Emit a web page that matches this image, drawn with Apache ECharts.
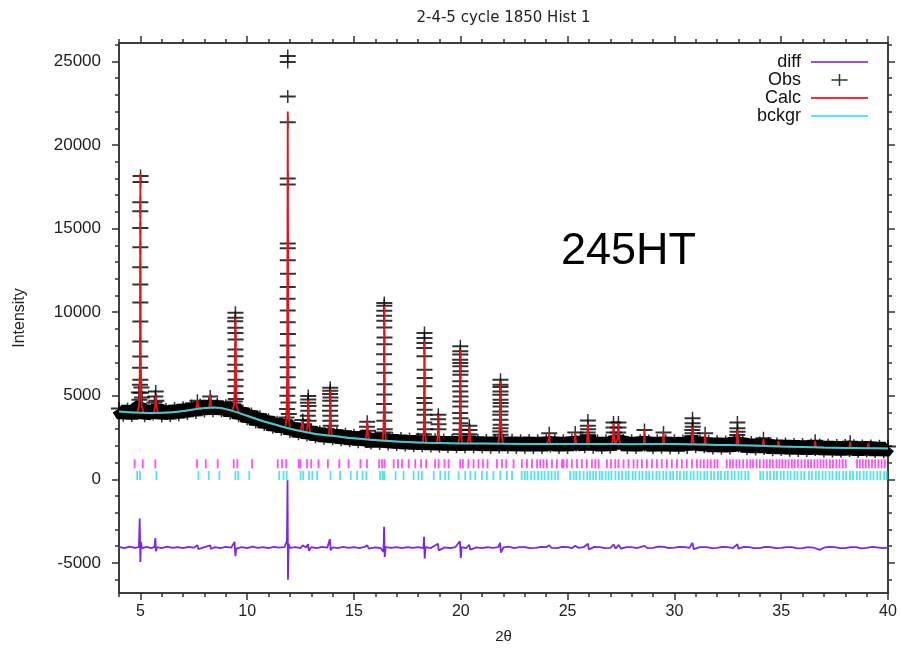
<!DOCTYPE html>
<html><head><meta charset="utf-8">
<script src="https://cdn.jsdelivr.net/npm/echarts@6/dist/echarts.min.js"></script>
<style>html,body{margin:0;padding:0;background:#fff}#c{width:902px;height:648px}</style>
</head><body><div id="c"></div>
<script>
// ---------- axis ticks / labels ----------
const xMajor = [5, 10, 15, 20, 25, 30, 35, 40];
const xMinor = [4, 6, 7, 8, 9, 11, 12, 13, 14, 16, 17, 18, 19, 21, 22, 23, 24, 26, 27, 28, 29, 31, 32, 33, 34, 36, 37, 38, 39];
const yMajor = [-5000, 0, 5000, 10000, 15000, 20000, 25000];
const yMinor = [-6000, -4000, -3000, -2000, -1000, 1000, 2000, 3000, 4000, 6000, 7000, 8000, 9000, 11000, 12000, 13000, 14000, 16000, 17000, 18000, 19000, 21000, 22000, 23000, 24000, 26000];
const xRange = [4, 40];
const yRange = [-6800, 26100];

// ---------- background (bckgr) ----------
const bckgr = [[4,4050],[4.5,4005],[5,3980],[5.5,3972],[6,3980],[6.5,4010],[7,4080],[7.5,4180],[8,4260],[8.5,4290],[9,4200],[9.5,4020],[10,3800],[10.5,3580],[11,3380],[11.5,3200],[12,3030],[12.5,2890],[13,2760],[13.5,2660],[14,2600],[15,2450],[16,2350],[17,2260],[18,2200],[19,2170],[20,2150],[22,2130],[24,2110],[26,2110],[28,2105],[30,2110],[32,2060],[33,2040],[34,2010],[35,1960],[36,1930],[37,1900],[38,1880],[39,1865],[40,1850]];

// ---------- observed: noisy baseline band, start 4.0, step 0.2 ----------
const obsStart = 4.0, obsStep = 0.2;
const obsBand = [4240,3840,4200,3820,4190,4350,3800,4160,3900,4300,3790,4180,3820,4230,3870,4280,3930,4380,4000,4450,
4080,4500,4100,4480,4090,4400,3950,4350,3800,4080,3620,3900,3430,3740,3280,3560,3120,3420,3000,3400,
2860,3170,2720,3050,2650,2960,2540,2850,2460,2800,2420,2750,2360,2700,2300,2640,2250,2590,2450,2180,
2540,2140,2500,2120,2460,2080,2440,2050,2410,2020,2390,2010,2380,1990,2360,1980,2350,1960,2340,1950,
2330,1950,2400,1940,2330,1930,2320,1920,2320,1940,2310,1920,2330,1910,2300,1920,2320,1900,2310,1910,
2300,2000,2310,1900,2300,1910,2320,2050,2300,1950,2450,1920,2310,1900,2300,1920,2400,2150,2320,1910,
2300,1900,2310,2050,2290,1900,2300,1920,2310,1890,2300,1900,2290,1910,2450,1960,2280,1950,2260,1870,
2250,1860,2240,1860,2300,2000,2220,1830,2200,1810,2180,1850,2150,1770,2120,1780,2110,1740,2090,1730,
2080,1720,2060,1780,2050,1700,2040,1690,2030,1680,2020,1720,2010,1670,2000,1700,1990,1660,1980,1650,1970];

// ---------- observed: points on the Bragg peaks ----------
const obsPeaks = [
[5.01,18140],[5.01,17780],[5.0,16580],[5.0,16040],[5.0,15040],[5.0,13880],[5.0,12680],[5.0,11660],[5.0,10580],[5.0,9440],[5.0,8240],[5.0,7340],[4.99,6680],[5.0,5960],[4.98,5660],[5.03,5180],[4.96,4760],[5.05,5500],[4.93,5200],[5.08,4900],
[5.72,5250],[5.7,4950],[5.75,4700],[5.66,4600],
[7.67,4700],[8.27,4950],[8.3,4700],
[9.45,9960],[9.45,9660],[9.44,9460],[9.45,9060],[9.45,8760],[9.46,8360],[9.45,7760],[9.45,7360],[9.44,6860],[9.45,6460],[9.46,5960],[9.45,5560],[9.44,5160],[9.47,4800],[9.42,4650],
[11.9,25320],[11.9,24960],[11.9,22900],[11.9,21360],[11.9,18000],[11.9,17640],[11.9,14100],[11.9,13820],[11.9,13100],[11.91,12300],[11.9,11500],[11.89,10800],[11.9,10100],[11.9,9400],[11.91,8700],[11.9,8000],[11.89,7300],[11.9,6700],[11.9,6100],[11.92,5500],[11.88,5000],[11.93,4600],[11.87,4200],[11.95,3900],[11.84,3700],
[12.6,3550],[12.62,3300],
[12.86,4980],[12.86,4780],[12.85,4580],[12.87,4380],[12.86,4100],[12.84,3800],[12.88,3500],
[13.89,5480],[13.89,5300],[13.88,5100],[13.9,4900],[13.89,4700],[13.89,4400],[13.88,4100],[13.9,3800],[13.89,3500],[13.91,3200],
[15.62,3450],[15.61,3150],[15.64,2900],
[16.42,10550],[16.42,10380],[16.42,10080],[16.41,9780],[16.42,9480],[16.42,9080],[16.43,8480],[16.42,8080],[16.41,7480],[16.42,6880],[16.42,6380],[16.43,5680],[16.42,5080],[16.41,4500],[16.43,4000],[16.42,3500],[16.44,3000],[16.39,2800],
[18.3,8760],[18.3,8460],[18.3,8160],[18.29,7860],[18.3,7360],[18.3,6560],[18.31,6060],[18.3,5560],[18.29,4860],[18.3,4560],[18.31,4160],[18.3,3860],[18.29,3400],[18.32,3000],[18.27,2700],
[18.95,3860],[18.94,3600],[18.96,3300],[18.95,3000],
[19.98,7960],[19.98,7660],[19.98,7460],[19.97,7160],[19.98,6960],[19.98,6760],[19.99,6460],[19.98,6260],[19.98,5860],[19.97,5560],[19.98,5260],[19.99,4960],[19.98,4660],[19.98,4360],[19.97,3960],[19.99,3660],[19.98,3360],[19.98,2960],[20.0,2700],
[20.4,3200],[20.41,2950],[20.39,2700],
[21.86,5960],[21.86,5660],[21.86,5520],[21.86,5260],[21.85,5060],[21.86,4760],[21.87,4560],[21.86,4360],[21.86,4060],[21.85,3860],[21.86,3560],[21.87,3260],[21.86,3060],[21.85,2860],[21.86,2660],
[24.14,2750],[25.36,2800],
[25.95,3520],[25.95,3200],[25.96,3000],[25.94,2800],[25.95,2650],
[27.15,3400],[27.15,3100],[27.16,2800],[27.38,3400],[27.38,3100],[27.37,2800],
[28.6,2950],[29.49,2800],
[30.85,3660],[30.85,3350],[30.86,3150],[30.84,2950],[30.85,2750],
[31.44,2750],
[32.95,3400],[32.95,3050],[32.96,2850],[32.94,2650],
[34.17,2450],[36.59,2300],[38.23,2250]
];

// ---------- calculated profile ----------
const calc = [
[4,4050],[4.5,4005],[4.85,3985],[4.94,4400],[4.98,7000],[5.0,18300],[5.02,7000],[5.06,4400],[5.15,3980],[5.5,3972],[5.64,3975],[5.69,4400],[5.72,5050],[5.75,4400],[5.82,3975],[6,3980],[6.5,4010],[7,4080],[7.5,4180],[7.6,4195],[7.64,4400],[7.67,4750],[7.7,4400],[7.75,4220],[8,4260],[8.2,4275],[8.24,4500],[8.27,5050],[8.3,4500],[8.35,4280],[8.5,4290],[9,4200],[9.3,4090],[9.39,4500],[9.42,6200],[9.45,9700],[9.48,6200],[9.51,4400],[9.6,3980],[10,3800],[10.5,3580],[11,3380],[11.5,3200],[11.78,3110],[11.84,3600],[11.87,6500],[11.9,22000],[11.93,6500],[11.96,3600],[12,3030],[12.5,2890],[12.56,2880],[12.6,3500],[12.64,2870],[12.78,2830],[12.83,3300],[12.86,4760],[12.89,3300],[12.95,2775],[13,2760],[13.5,2660],[13.82,2620],[13.86,3300],[13.89,5360],[13.92,3300],[13.96,2605],[14,2600],[15,2450],[15.55,2395],[15.59,2750],[15.62,3560],[15.65,2750],[15.7,2380],[16,2350],[16.34,2318],[16.38,2900],[16.4,4600],[16.42,10400],[16.44,4600],[16.46,2900],[16.5,2305],[17,2260],[18,2200],[18.22,2195],[18.26,2700],[18.28,4300],[18.3,8300],[18.32,4300],[18.34,2700],[18.38,2190],[18.88,2178],[18.92,2600],[18.95,3860],[18.98,2600],[19.02,2170],[19.9,2152],[19.94,2700],[19.96,4100],[19.98,7760],[20,4100],[20.02,2700],[20.06,2150],[20.33,2148],[20.37,2550],[20.4,3160],[20.43,2550],[20.47,2146],[21.75,2133],[21.8,2600],[21.83,3600],[21.86,5850],[21.89,3600],[21.92,2600],[21.97,2131],[22,2130],[24,2110],[24.09,2110],[24.12,2350],[24.14,2760],[24.16,2350],[24.19,2110],[25.31,2110],[25.34,2350],[25.36,2800],[25.38,2350],[25.41,2110],[25.89,2110],[25.92,2450],[25.95,3360],[25.98,2450],[26.02,2110],[27.08,2108],[27.12,2450],[27.15,3360],[27.18,2450],[27.24,2108],[27.32,2108],[27.35,2450],[27.38,3360],[27.41,2450],[27.46,2107],[28,2105],[28.55,2106],[28.58,2300],[28.6,2960],[28.62,2300],[28.65,2106],[29.44,2108],[29.47,2300],[29.49,2800],[29.51,2300],[29.54,2108],[30,2110],[30.79,2090],[30.82,2450],[30.85,3160],[30.88,2450],[30.91,2088],[31.4,2075],[31.42,2300],[31.44,2800],[31.46,2300],[31.48,2074],[32,2060],[32.9,2043],[32.92,2400],[32.95,2960],[32.98,2400],[33,2040],[34,2010],[34.13,2004],[34.15,2200],[34.17,2400],[34.19,2200],[34.21,2000],[34.83,1970],[34.85,2150],[34.87,2300],[34.89,2150],[34.91,1966],[35,1960],[36,1930],[36.55,1914],[36.57,2100],[36.59,2300],[36.61,2100],[36.63,1912],[37,1900],[38,1880],[38.19,1877],[38.21,2050],[38.23,2250],[38.25,2050],[38.27,1875],[39,1865],[39.04,1864],[39.06,2000],[39.08,2150],[39.1,2000],[39.12,1862],[40,1850]
];

// ---------- difference curve (offset) ----------
const diff = [
[4.0,-4040],[4.25,-4110],[4.5,-4030],[4.75,-4100],[4.93,-4060],[4.97,-2350],[5.0,-4950],[5.03,-3750],[5.07,-4120],[5.3,-4040],[5.5,-4110],[5.66,-4050],[5.7,-3520],[5.73,-4300],[5.77,-4060],[6.0,-4110],[6.25,-4030],[6.5,-4100],[6.75,-4050],[7.0,-4120],[7.25,-4040],[7.5,-4090],[7.67,-3950],[7.72,-4180],[8.0,-4060],[8.27,-3950],[8.31,-4170],[8.5,-4050],[8.75,-4110],[9.0,-4040],[9.25,-4090],[9.41,-3740],[9.45,-4600],[9.49,-4150],[9.75,-4060],[10.0,-4110],[10.25,-4030],[10.5,-4100],[10.75,-4050],[11.0,-4110],[11.25,-4040],[11.5,-4090],[11.75,-4050],[11.86,-3700],[11.89,-50],[11.91,-6000],[11.94,-3850],[12.0,-4100],[12.25,-4050],[12.5,-4110],[12.6,-3950],[12.75,-4080],[12.85,-3880],[12.89,-4280],[13.0,-4060],[13.25,-4110],[13.5,-4040],[13.75,-4090],[13.87,-3580],[13.91,-4250],[14.0,-4070],[14.25,-4110],[14.5,-4040],[14.75,-4100],[15.0,-4050],[15.25,-4110],[15.5,-4040],[15.62,-3950],[15.7,-4150],[16.0,-4070],[16.25,-4110],[16.38,-4350],[16.41,-2840],[16.44,-4640],[16.48,-4050],[16.75,-4100],[17.0,-4050],[17.25,-4110],[17.5,-4060],[17.75,-4100],[18.0,-4050],[18.25,-4120],[18.28,-3440],[18.31,-4740],[18.35,-4060],[18.6,-4110],[18.93,-3850],[18.97,-4250],[19.25,-4070],[19.5,-4110],[19.75,-4050],[19.96,-3700],[20.0,-4700],[20.04,-4060],[20.25,-4110],[20.4,-3920],[20.44,-4200],[20.75,-4070],[21.0,-4110],[21.25,-4050],[21.5,-4100],[21.75,-4060],[21.84,-3800],[21.88,-4380],[22.0,-4070],[22.25,-4030],[22.5,-4110],[22.75,-4060],[23.0,-4050],[23.25,-4120],[23.5,-4100],[23.75,-4040],[24.0,-4060],[24.14,-3950],[24.25,-4100],[24.5,-4110],[24.75,-4040],[25.0,-4050],[25.2,-4120],[25.36,-3980],[25.5,-4100],[25.75,-4060],[25.95,-3850],[26.0,-4200],[26.25,-4040],[26.5,-4060],[26.75,-4120],[27.0,-4100],[27.15,-3900],[27.25,-4140],[27.4,-3920],[27.5,-4150],[27.75,-4050],[28.0,-4060],[28.25,-4110],[28.6,-3980],[28.75,-4120],[29.0,-4100],[29.25,-4030],[29.5,-4040],[29.75,-4110],[30.0,-4090],[30.25,-4040],[30.5,-4050],[30.7,-4100],[30.85,-3800],[30.9,-4180],[31.2,-4060],[31.5,-4060],[31.75,-4120],[32.0,-4100],[32.25,-4040],[32.5,-4060],[32.75,-4110],[32.95,-3880],[33.0,-4150],[33.25,-4040],[33.5,-4060],[33.75,-4120],[34.0,-4110],[34.25,-4040],[34.5,-4050],[34.75,-4120],[35.0,-4100],[35.25,-4050],[35.5,-4060],[35.75,-4130],[36.0,-4110],[36.25,-4050],[36.5,-4080],[36.8,-4220],[37.0,-4090],[37.25,-4040],[37.5,-4050],[37.75,-4120],[38.0,-4110],[38.25,-4050],[38.5,-4060],[38.75,-4130],[39.0,-4100],[39.25,-4040],[39.5,-4070],[39.75,-4120],[40.0,-4090]
];

// ---------- reflection positions: phase 1 (magenta) and phase 2 (cyan) ----------
const refl1 = [4.73,5.11,5.70,7.65,8.06,8.62,9.37,9.54,10.23,11.43,11.63,11.83,12.41,12.49,12.80,13.00,13.34,13.78,14.31,14.75,15.30,15.61,16.18,16.31,16.43,16.86,17.06,17.25,17.56,17.87,18.14,18.38,18.80,18.96,19.24,19.43,19.97,20.10,20.36,20.60,20.83,21.04,21.25,21.69,21.93,22.13,22.47,22.86,23.10,23.33,23.57,23.72,23.87,24.03,24.27,24.50,24.74,24.81,24.97,25.20,25.44,25.67,25.90,26.14,26.30,26.45,26.84,27.03,27.23,27.38,27.62,27.85,28.09,28.27,28.48,28.71,28.95,29.18,29.41,29.65,29.88,30.12,30.35,30.58,30.82,31.05,31.22,31.38,31.55,31.70,31.88,32.02,32.45,32.60,32.74,32.90,33.05,33.22,33.40,33.55,33.68,33.85,34.00,34.18,34.32,34.47,34.60,34.78,34.92,35.05,35.20,35.34,35.50,35.63,35.78,35.95,36.10,36.26,36.40,36.55,36.70,36.84,36.98,37.12,37.28,37.42,37.58,37.73,37.88,38.02,38.55,38.68,38.82,38.96,39.10,39.25,39.40,39.55,39.70,39.85];
const refl2 = [4.85,4.98,5.75,7.72,8.20,8.70,9.45,9.58,10.10,11.50,11.70,11.85,12.50,12.62,12.90,13.05,13.28,13.90,14.35,14.85,15.15,15.40,15.58,16.22,16.35,16.42,16.95,17.32,17.79,18.02,18.18,18.73,19.04,19.27,19.43,19.90,20.21,20.45,20.68,20.99,21.22,21.53,21.85,22.16,22.40,22.85,23.00,23.12,23.30,23.45,23.62,23.78,23.92,24.10,24.25,24.42,24.55,25.12,25.28,25.40,25.57,25.75,25.92,26.05,26.20,26.32,26.50,26.62,26.78,26.92,27.05,27.24,27.40,27.55,27.72,27.86,28.05,28.18,28.36,28.50,28.68,28.82,28.98,29.16,29.30,29.48,29.62,29.80,29.94,30.12,30.26,30.44,30.58,30.76,30.90,31.08,31.22,31.40,31.54,31.72,31.86,32.04,32.18,32.36,32.50,32.68,32.82,33.00,33.14,33.32,33.46,34.02,34.16,34.34,34.48,34.66,34.80,34.98,35.12,35.30,35.44,35.62,35.76,35.94,36.08,36.30,36.44,36.62,36.76,36.94,37.08,37.26,37.40,37.58,37.72,37.90,38.04,38.22,38.36,38.54,38.68,38.86,39.00,39.18,39.32,39.50,39.64,39.82,39.94];
const refl1Level = 930, refl2Level = 230;

// ---------- build ----------
const FONT = '"Liberation Sans", Arial, Helvetica, sans-serif';
const AXC = '#333';
const obsBandPts = obsBand.map((v, i) => [+(obsStart + i * obsStep).toFixed(2), v]);
const obsAll = obsBandPts.concat(obsPeaks);
const calcPts = calc.slice().sort((a, b) => a[0] - b[0]);
const plusSym = 'path://M7.25,0h1.5v5.5h7.25v2h-7.25v5.5h-1.5v-5.5h-7.25v-2h7.25z';
const plusLegend = 'path://M0,0M57,12M27.75,0h1.5v5.25h7.25v1.5h-7.25v5.25h-1.5v-5.25h-7.25v-1.5h7.25z';
const lineLegend = 'path://M0,0M57,12M0,5.1h57v1.8h-57z';

function axis(pos, range, ticks, len, extra) {
  return Object.assign({
    type: 'value', position: pos, min: range[0], max: range[1],
    axisLine: {show: true, onZero: false, lineStyle: {color: AXC, width: 1.5}},
    axisTick: {show: true, inside: false, customValues: ticks, length: len, lineStyle: {color: AXC, width: 1.5}},
    axisLabel: {show: false},
    splitLine: {show: false}
  }, extra || {});
}

const chart = echarts.init(document.getElementById('c'), null, {renderer: 'canvas'});
chart.setOption({
  animation: false,
  backgroundColor: '#fff',
  grid: {left: 119, right: 14, top: 43, bottom: 55, containLabel: false, outerBoundsMode: 'none'},
  xAxis: [
    axis('bottom', xRange, xMajor, 7, {
      axisLabel: {show: true, customValues: xMajor, fontSize: 16, color: '#222', fontFamily: FONT, margin: 11,
                  formatter: v => String(v)},
      name: '2θ', nameLocation: 'middle', nameGap: 36,
      nameTextStyle: {fontSize: 15, color: '#222', fontFamily: FONT}
    }),
    axis('bottom', xRange, xMinor, 4),
    axis('top', xRange, xMajor, 7),
    axis('top', xRange, xMinor, 4)
  ],
  yAxis: [
    axis('left', yRange, yMajor, 7, {
      axisLabel: {show: true, customValues: yMajor, fontSize: 17, color: '#222', fontFamily: FONT, margin: 18,
                  formatter: v => String(v)},
      name: 'Intensity', nameLocation: 'middle', nameGap: 91,
      nameTextStyle: {fontSize: 16, color: '#222', fontFamily: FONT}
    }),
    axis('left', yRange, yMinor, 4),
    axis('right', yRange, yMajor, 7),
    axis('right', yRange, yMinor, 4)
  ],
  legend: {
    orient: 'vertical', right: 34, top: 53, padding: 0, itemGap: 0,
    itemWidth: 57, itemHeight: 12, align: 'right', selectedMode: false,
    itemStyle: {borderWidth: 0},
    textStyle: {fontSize: 18, fontFamily: FONT, color: '#111', lineHeight: 17, padding: [0, 5, 0, 0]},
    data: [
      {name: 'diff', icon: lineLegend},
      {name: 'Obs', icon: plusLegend},
      {name: 'Calc', icon: lineLegend},
      {name: 'bckgr', icon: lineLegend}
    ]
  },
  graphic: [
    {type: 'text', x: 503.5, y: 18, silent: true,
     style: {text: '2-4-5 cycle 1850 Hist 1', fontSize: 15, fontFamily: '"DejaVu Sans", sans-serif', fill: '#222', align: 'center', verticalAlign: 'middle'}},
    {type: 'text', x: 561, y: 252, silent: true,
     style: {text: '245HT', fontSize: 45, fontFamily: FONT, fill: '#000', align: 'left', verticalAlign: 'middle'}}
  ],
  series: [
    {name: 'diff', type: 'line', data: diff, symbol: 'none', z: 2,
     lineStyle: {color: '#7a28e6', width: 1.8}, itemStyle: {color: '#9a50f0'}},
    {name: 'refl1', type: 'scatter', data: refl1.map(x => [x, refl1Level]), symbol: 'rect', symbolSize: [1.8, 9], z: 2,
     itemStyle: {color: '#ff22ff'}, silent: true},
    {name: 'refl2', type: 'scatter', data: refl2.map(x => [x, refl2Level]), symbol: 'rect', symbolSize: [1.8, 9], z: 2,
     itemStyle: {color: '#22e0e0'}, silent: true},
    {name: 'Obs', type: 'scatter', data: obsAll, symbol: plusSym, symbolSize: [16, 13], z: 3,
     itemStyle: {color: '#000'}, silent: true},
    {name: 'Obs', type: 'line', data: obsBandPts, symbol: 'none', z: 3, silent: true,
     lineStyle: {color: '#000', width: 15}, itemStyle: {color: '#000'}},
    {name: 'Calc', type: 'line', data: calcPts, symbol: 'none', z: 4,
     lineStyle: {color: '#e8101a', width: 1.8}, itemStyle: {color: '#ee3040'}},
    {name: 'bckgr', type: 'line', data: bckgr, symbol: 'none', z: 5, smooth: 0.3,
     lineStyle: {color: '#35cfcf', width: 2}, itemStyle: {color: '#55e6e6'}}
  ]
});
</script>
</body></html>
